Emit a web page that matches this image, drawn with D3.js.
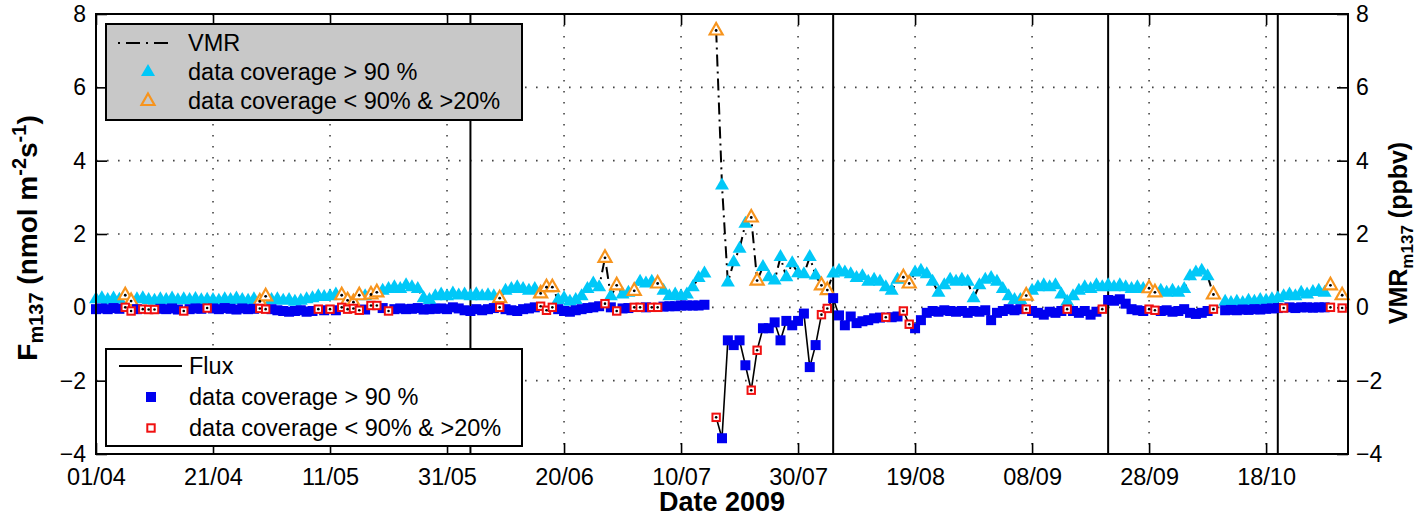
<!DOCTYPE html>
<html>
<head>
<meta charset="utf-8">
<script src="https://cdn.jsdelivr.net/npm/d3@7"></script>
<style>
  body { margin: 0; background: #fff; }
  text { font-family: "Liberation Sans", Arial, sans-serif; }
</style>
</head>
<body>
<svg id="chart" width="1416" height="517"></svg>
<script>
// daily values, day 0 = 01/04/2009
const startDate = "2009-04-01";
const endDate = "2009-11-01";

// VMR m137 (ppbv), null = no data
const vmr = [
  0.22, 0.25, 0.2, 0.24, 0.21, 0.33, 0.17, 0.22, 0.25, 0.2,
  0.18, 0.22, 0.2, 0.24, 0.19, 0.22, 0.2, 0.23, 0.19, 0.21,
  0.2, 0.18, 0.22, 0.2, 0.24, 0.2, 0.18, 0.22, 0.16, 0.3,
  0.2, 0.22, 0.18, 0.2, 0.15, 0.18, 0.22, 0.25, 0.3, 0.28,
  0.3, 0.35, 0.33, 0.19, 0.14, 0.33, 0.3, 0.35, 0.41, 0.45,
  0.5, 0.55, 0.5, 0.6, 0.55, 0.5, 0.25, 0.2, 0.3, 0.35,
  0.3, 0.38, 0.32, 0.35, 0.3, 0.36, 0.3, 0.33, 0.3, 0.25,
  0.45, 0.5, 0.55, 0.5, 0.45, 0.5, 0.38, 0.55, 0.55, 0.2,
  0.25, 0.15, 0.2, 0.3, 0.5, 0.65, 0.55, 1.35, 0.3, 0.6,
  0.35, 0.4, 0.45, 0.7, 0.65, 0.7, 0.65, 0.45, 0.3, 0.35,
  0.3, 0.35, 0.55, 0.8, 0.92, null, 7.55, 3.32, 0.68, 1.23,
  1.6, 2.28, 2.45, 0.73, 1.1, 0.82, 0.73, 1.37, 0.82, 1.2,
  0.93, 0.9, 1.37, 0.87, 0.6, 0.47, 0.92, 1.0, 0.95, 0.9,
  0.8, 0.85, 0.7, 0.75, 0.7, 0.55, 0.45, 0.75, 0.82, 0.65,
  0.95, 1.0, 0.9, 0.7, 0.4, 0.6, 0.75, 0.7, 0.75, 0.7,
  0.25, 0.6, 0.75, 0.8, 0.7, 0.5, 0.3, 0.2, 0.2, 0.32,
  0.45, 0.55, 0.6, 0.55, 0.6, 0.35, 0.15, 0.3, 0.45, 0.55,
  0.5, 0.6, 0.55, 0.6, 0.55, 0.6, 0.55, 0.5, 0.55, 0.5,
  0.52, 0.41, 0.45, 0.4, 0.45, 0.4, 0.5, 0.85, 0.95, 1.0,
  0.85, 0.35, null, 0.15, 0.12, 0.15, 0.12, 0.18, 0.15, 0.2,
  0.18, 0.22, 0.25, 0.3, 0.35, 0.3, 0.4, 0.35, 0.42, 0.45,
  0.4, 0.6, null, 0.33
];
// days with data coverage < 90% & > 20% (VMR)
const vmrLow = [5, 6, 28, 29, 42, 43, 44, 45, 47, 48, 69, 76, 77, 78, 87, 89, 92, 96,
  106, 112, 113, 124, 125, 138, 139, 159, 180, 181, 191, 211, 213];

// Flux m137 (nmol m-2 s-1)
const flux = [
  -0.05, -0.03, -0.05, -0.02, -0.04, 0.0, -0.1, -0.05, -0.05, -0.06,
  -0.06, -0.04, -0.05, -0.03, -0.06, -0.1, -0.05, -0.03, -0.04, -0.02,
  -0.03, -0.05, -0.02, -0.04, -0.06, -0.03, -0.05, -0.04, -0.03, -0.05,
  -0.05, -0.08, -0.1, -0.12, -0.1, -0.08, -0.12, -0.1, -0.05, -0.08,
  -0.05, -0.08, 0.0, -0.05, -0.03, -0.08, -0.06, 0.05, 0.05, -0.02,
  -0.1, -0.05, -0.03, -0.05, -0.04, -0.02, -0.06, -0.05, -0.04, -0.03,
  -0.05, 0.0, -0.03, -0.08, -0.1, -0.05, -0.08, -0.05, -0.02, 0.0,
  -0.05, -0.08, -0.1, -0.05, -0.03, 0.0, 0.03, -0.08, 0.0, -0.05,
  -0.1, -0.12, -0.08, -0.05, -0.02, 0.0, 0.03, 0.1, 0.0, -0.1,
  -0.03, -0.02, 0.0, 0.0, 0.0, 0.0, 0.0, 0.02, 0.03, 0.03,
  0.05, 0.05, 0.05, 0.05, 0.07, null, -3.0, -3.57, -0.9, -1.03,
  -0.9, -1.58, -2.26, -1.17, -0.57, -0.57, -0.41, -0.9, -0.37, -0.49,
  -0.37, -0.17, -1.63, -1.03, -0.2, -0.03, 0.25, -0.22, -0.49, -0.25,
  -0.43, -0.38, -0.35, -0.3, -0.28, -0.27, -0.27, -0.25, -0.1, -0.46,
  -0.57, -0.35, -0.15, -0.1, -0.12, -0.08, -0.1, -0.12, -0.1, -0.15,
  -0.1, -0.12, -0.08, -0.35, -0.15, -0.1, -0.05, -0.08, -0.05, -0.05,
  -0.1, -0.15, -0.2, -0.12, -0.15, -0.1, -0.05, -0.1, -0.15, -0.1,
  -0.2, -0.12, -0.05, 0.2, 0.18, 0.22, 0.1, -0.05, -0.08, -0.1,
  -0.05, -0.08, -0.1, -0.08, -0.12, -0.1, -0.05, -0.15, -0.18, -0.15,
  -0.1, -0.05, null, -0.08, -0.07, -0.08, -0.06, -0.07, -0.05, -0.06,
  -0.04, -0.03, -0.02, -0.02, 0.0, -0.02, 0.0, 0.0, -0.01, 0.0,
  0.0, 0.0, null, -0.02
];
const fluxLow = [5, 6, 8, 9, 10, 15, 19, 28, 29, 38, 40, 42, 43, 44, 45, 47, 48, 50, 69,
  76, 77, 78, 87, 89, 92, 93, 95, 96, 106, 112, 113, 124, 125, 135, 138, 139, 159, 166,
  172, 180, 181, 191, 203, 211, 213];

const xTickDates = ["2009-04-01", "2009-04-21", "2009-05-11", "2009-05-31", "2009-06-20",
  "2009-07-10", "2009-07-30", "2009-08-19", "2009-09-08", "2009-09-28", "2009-10-18"];
const yTicks = [-4, -2, 0, 2, 4, 6, 8];
const eventDates = ["2009-06-04", "2009-08-05", "2009-09-21", "2009-10-20"];

const cyan = "#00c8f8", orange = "#f7941d", blue = "#0000f0", red = "#f01010";

const parse = d3.utcParse("%Y-%m-%d");
const t0 = parse(startDate);
const dayDate = i => d3.utcDay.offset(t0, i);

const svg = d3.select("#chart");
const pLeft = 96, pRight = 1348, pTop = 14, pBottom = 454;

const x = d3.scaleUtc().domain([t0, parse(endDate)]).range([pLeft, pRight]);
const y = d3.scaleLinear().domain([-4, 8]).range([pBottom, pTop]);

// grid
let grid = svg.append("g").attr("stroke", "#444").attr("stroke-width", 1.6)
  .attr("stroke-dasharray", "1.6,9.4");
grid.selectAll(".gx").data(xTickDates.slice(1)).join("line")
  .attr("x1", d => x(parse(d))).attr("x2", d => x(parse(d)))
  .attr("y1", pTop).attr("y2", pBottom);
grid.selectAll(".gy").data(yTicks.slice(1, -1)).join("line")
  .attr("x1", pLeft).attr("x2", pRight)
  .attr("y1", d => y(d)).attr("y2", d => y(d));

// axes
const fmt = d3.utcFormat("%d/%m");
const xTicks = xTickDates.map(parse);
function styleAxis(g, size) {
  g.select(".domain").remove();
  g.selectAll(".tick line").attr("stroke", "#000").attr("stroke-width", 1.6);
  g.selectAll("text").attr("font-size", size).attr("fill", "#000")
    .attr("font-family", "'Liberation Sans', Arial, sans-serif");
}
svg.append("g").attr("transform", `translate(0,${pBottom})`)
  .call(d3.axisBottom(x).tickValues(xTicks).tickFormat(fmt).tickSize(-11).tickPadding(14))
  .call(styleAxis, 23.5);
svg.append("g").attr("transform", `translate(0,${pTop})`)
  .call(d3.axisTop(x).tickValues(xTicks).tickFormat("").tickSize(-11))
  .call(styleAxis, 23);
svg.append("g").attr("transform", `translate(${pLeft},0)`)
  .call(d3.axisLeft(y).tickValues(yTicks).tickSize(-11).tickPadding(10))
  .call(styleAxis, 23);
svg.append("g").attr("transform", `translate(${pRight},0)`)
  .call(d3.axisRight(y).tickValues(yTicks).tickSize(-11).tickPadding(8))
  .call(styleAxis, 23);

// event lines
svg.append("g").selectAll("line").data(eventDates).join("line")
  .attr("x1", d => x(parse(d))).attr("x2", d => x(parse(d)))
  .attr("y1", pTop).attr("y2", pBottom)
  .attr("stroke", "#000").attr("stroke-width", 2);

// series
const vmrPts = vmr.map((v, i) => ({ date: dayDate(i), v, low: vmrLow.includes(i) }));
const fluxPts = flux.map((v, i) => ({ date: dayDate(i), v, low: fluxLow.includes(i) }));

const line = d3.line().defined(d => d.v != null).x(d => x(d.date)).y(d => y(d.v));
const tri = "M0,-8L7,4L-7,4Z";
const triOpen = "M0,-7.5L6.5,4L-6.5,4Z";

// VMR
svg.append("path").datum(vmrPts).attr("d", line)
  .attr("fill", "none").attr("stroke", "#000").attr("stroke-width", 2)
  .attr("stroke-dasharray", "12,5,2,5");
svg.append("g").selectAll("path").data(vmrPts.filter(d => d.v != null && !d.low)).join("path")
  .attr("d", tri).attr("transform", d => `translate(${x(d.date)},${y(d.v)})`)
  .attr("fill", cyan);
svg.append("g").selectAll("path").data(vmrPts.filter(d => d.v != null && d.low)).join("path")
  .attr("d", triOpen).attr("transform", d => `translate(${x(d.date)},${y(d.v)})`)
  .attr("fill", "#fff").attr("stroke", orange).attr("stroke-width", 2.2);
svg.append("g").selectAll("circle").data(vmrPts.filter(d => d.v != null && d.low)).join("circle")
  .attr("cx", d => x(d.date)).attr("cy", d => y(d.v)).attr("r", 1.4).attr("fill", "#000");

// Flux
svg.append("path").datum(fluxPts).attr("d", line)
  .attr("fill", "none").attr("stroke", "#000").attr("stroke-width", 1.6);
svg.append("g").selectAll("rect").data(fluxPts.filter(d => d.v != null && !d.low)).join("rect")
  .attr("x", d => x(d.date) - 5).attr("y", d => y(d.v) - 5)
  .attr("width", 10).attr("height", 10).attr("fill", blue);
svg.append("g").selectAll("rect").data(fluxPts.filter(d => d.v != null && d.low)).join("rect")
  .attr("x", d => x(d.date) - 3.7).attr("y", d => y(d.v) - 3.7)
  .attr("width", 7.4).attr("height", 7.4).attr("fill", "#fff").attr("stroke", red).attr("stroke-width", 2);
svg.append("g").selectAll("circle").data(fluxPts.filter(d => d.v != null && d.low)).join("circle")
  .attr("cx", d => x(d.date)).attr("cy", d => y(d.v)).attr("r", 1.3).attr("fill", "#000");

// plot box
svg.append("rect").attr("x", pLeft).attr("y", pTop).attr("width", pRight - pLeft).attr("height", pBottom - pTop)
  .attr("fill", "none").attr("stroke", "#000").attr("stroke-width", 2);

// legend VMR (upper)
let lg1 = svg.append("g");
lg1.append("rect").attr("x", 106).attr("y", 24).attr("width", 416).attr("height", 96)
  .attr("fill", "#c8c8c8").attr("stroke", "#000").attr("stroke-width", 2);
lg1.append("line").attr("x1", 118).attr("x2", 174).attr("y1", 43).attr("y2", 43)
  .attr("stroke", "#000").attr("stroke-width", 2).attr("stroke-dasharray", "2,6,14,6");
lg1.append("path").attr("d", tri).attr("transform", "translate(148,72)").attr("fill", cyan);
lg1.append("path").attr("d", triOpen).attr("transform", "translate(148,101)")
  .attr("fill", "none").attr("stroke", orange).attr("stroke-width", 2.2);
lg1.selectAll("text").data(["VMR", "data coverage > 90 %", "data coverage < 90% & >20%"]).join("text")
  .attr("x", 188).attr("y", (d, i) => 43 + i * 28.7).attr("dy", "0.35em")
  .attr("font-size", 23.5).text(d => d);

// legend Flux (lower)
let lg2 = svg.append("g");
lg2.append("rect").attr("x", 106).attr("y", 349).attr("width", 416).attr("height", 97)
  .attr("fill", "#fff").attr("stroke", "#000").attr("stroke-width", 2);
lg2.append("line").attr("x1", 119).attr("x2", 182).attr("y1", 366).attr("y2", 366)
  .attr("stroke", "#000").attr("stroke-width", 2);
lg2.append("rect").attr("x", 146).attr("y", 392).attr("width", 10).attr("height", 10).attr("fill", blue);
lg2.append("rect").attr("x", 147.3).attr("y", 424.3).attr("width", 7.4).attr("height", 7.4)
  .attr("fill", "none").attr("stroke", red).attr("stroke-width", 2);
lg2.selectAll("text").data(["Flux", "data coverage > 90 %", "data coverage < 90% & >20%"]).join("text")
  .attr("x", 189).attr("y", (d, i) => 366 + i * 31).attr("dy", "0.35em")
  .attr("font-size", 23.5).text(d => d);

// axis titles
svg.append("text").attr("x", 722).attr("y", 511).attr("text-anchor", "middle")
  .attr("font-size", 27).attr("font-weight", "bold").text("Date 2009");

let yl = svg.append("text").attr("transform", "translate(37,238) rotate(-90)")
  .attr("text-anchor", "middle").attr("font-size", 28).attr("font-weight", "bold");
yl.append("tspan").text("F");
yl.append("tspan").attr("font-size", 20).attr("dy", 6).text("m137");
yl.append("tspan").attr("dy", -6).text(" (nmol m");
yl.append("tspan").attr("font-size", 20).attr("dy", -11).text("-2");
yl.append("tspan").attr("dy", 11).text("s");
yl.append("tspan").attr("font-size", 20).attr("dy", -11).text("-1");
yl.append("tspan").attr("dy", 11).text(")");

let yr = svg.append("text").attr("transform", "translate(1407,233) rotate(-90)")
  .attr("text-anchor", "middle").attr("font-size", 25).attr("font-weight", "bold");
yr.append("tspan").text("VMR");
yr.append("tspan").attr("font-size", 17).attr("dy", 6).text("m137");
yr.append("tspan").attr("dy", -6).text(" (ppbv)");
</script>
</body>
</html>
